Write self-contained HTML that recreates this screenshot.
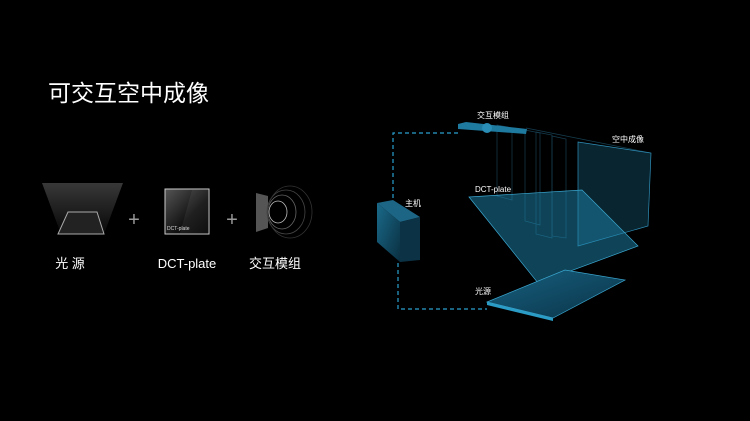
<!DOCTYPE html>
<html><head><meta charset="utf-8"><style>
body{margin:0;width:750px;height:421px;background:#000;overflow:hidden;font-family:"Liberation Sans","Noto Sans CJK SC",sans-serif;}
svg{position:absolute;left:0;top:0}
</style></head><body>
<svg width="750" height="421" viewBox="0 0 750 421">
<defs>
<linearGradient id="beam" x1="0" y1="0" x2="0" y2="1"><stop offset="0" stop-color="#fff" stop-opacity="0.22"/><stop offset="1" stop-color="#fff" stop-opacity="0.03"/></linearGradient>
<linearGradient id="sq" x1="0" y1="0" x2="1" y2="1"><stop offset="0" stop-color="#555"/><stop offset="0.6" stop-color="#111"/><stop offset="1" stop-color="#000"/></linearGradient>
<linearGradient id="blue" x1="0" y1="0" x2="1" y2="1"><stop offset="0" stop-color="#17607f"/><stop offset="1" stop-color="#0a3347"/></linearGradient>
<linearGradient id="box" x1="0" y1="0" x2="1" y2="1"><stop offset="0" stop-color="#1a6a8a"/><stop offset="1" stop-color="#0a2f40"/></linearGradient>
</defs>
<text x="48" y="101" fill="#fff" font-size="23">可交互空中成像</text>
<polygon points="42,183 123,183 104,234 61,234" fill="url(#beam)"/>
<polygon points="68,212 97,212 104,234 58,234" fill="#222" stroke="#aaa" stroke-width="1"/>
<text x="134" y="226" fill="#999" font-size="20" text-anchor="middle">+</text>
<rect x="165" y="189" width="44" height="45" fill="url(#sq)" stroke="#ccc" stroke-width="1"/>
<polygon points="192,190 208,190 208,233 180,233" fill="#fff" fill-opacity="0.06"/>
<text x="167" y="230" fill="#ddd" font-size="5">DCT-plate</text>
<text x="232" y="226" fill="#999" font-size="20" text-anchor="middle">+</text>
<polygon points="256,193 268,196 268,228 256,232" fill="#555"/>
<g fill="none" stroke="#666" stroke-width="0.8">
<ellipse cx="278" cy="212" rx="9" ry="11" stroke="#bbb"/>
<ellipse cx="282" cy="212" rx="14" ry="17"/>
<ellipse cx="286" cy="212" rx="19" ry="22" stroke="#444"/>
<ellipse cx="290" cy="212" rx="22" ry="26" stroke="#333"/>
</g>
<text x="70" y="268" fill="#fff" font-size="13" text-anchor="middle">光 源</text>
<text x="187" y="268" fill="#fff" font-size="13" text-anchor="middle">DCT-plate</text>
<text x="275" y="268" fill="#fff" font-size="13" text-anchor="middle">交互模组</text>
<g fill="none" stroke="#2aa0d0" stroke-width="1.2" stroke-dasharray="4,3">
<polyline points="458,133 393,133 393,200"/>
<polyline points="398,263 398,309 487,309"/>
</g>
<g fill="none" stroke="#163f52" stroke-width="0.7">
<polygon points="497,125 512,128 512,200 497,196"/>
<polygon points="525,130 540,133 540,225 525,221"/>
<polygon points="536,132 552,135 552,238 536,234"/>
<polygon points="552,136 566,139 566,238 552,236"/>
<line x1="526" y1="128" x2="651" y2="153"/>
</g>
<polygon points="578,142 651,153 648,226 578,246" fill="#1f7aa0" fill-opacity="0.3" stroke="#2f8fb8" stroke-width="0.7"/>
<polygon points="469,197 582,190 638,246 538,283" fill="#1e86ad" fill-opacity="0.5" stroke="#3aa6cf" stroke-width="0.7"/>
<polygon points="487,302 565,270 625,280 553,318" fill="url(#blue)" stroke="#3aa6cf" stroke-width="0.7"/>
<polygon points="487,302 553,318 553,321 487,305" fill="#2a9cc5"/>
<polygon points="377,203 393,200 420,217 400,222" fill="#1d6585"/>
<polygon points="377,203 400,222 400,262 377,242" fill="url(#box)"/>
<polygon points="400,222 420,217 420,260 400,262" fill="#0b3345"/>
<polygon points="458,124 466,122 527,129 526,134 458,129" fill="#1f7aa0"/>
<circle cx="487" cy="128" r="5" fill="#2a8db5"/>
<g fill="#fff" font-size="8">
<text x="477" y="118">交互模组</text>
<text x="612" y="142">空中成像</text>
<text x="475" y="192">DCT-plate</text>
<text x="405" y="206">主机</text>
<text x="475" y="294">光源</text>
</g>
</svg>
</body></html>
